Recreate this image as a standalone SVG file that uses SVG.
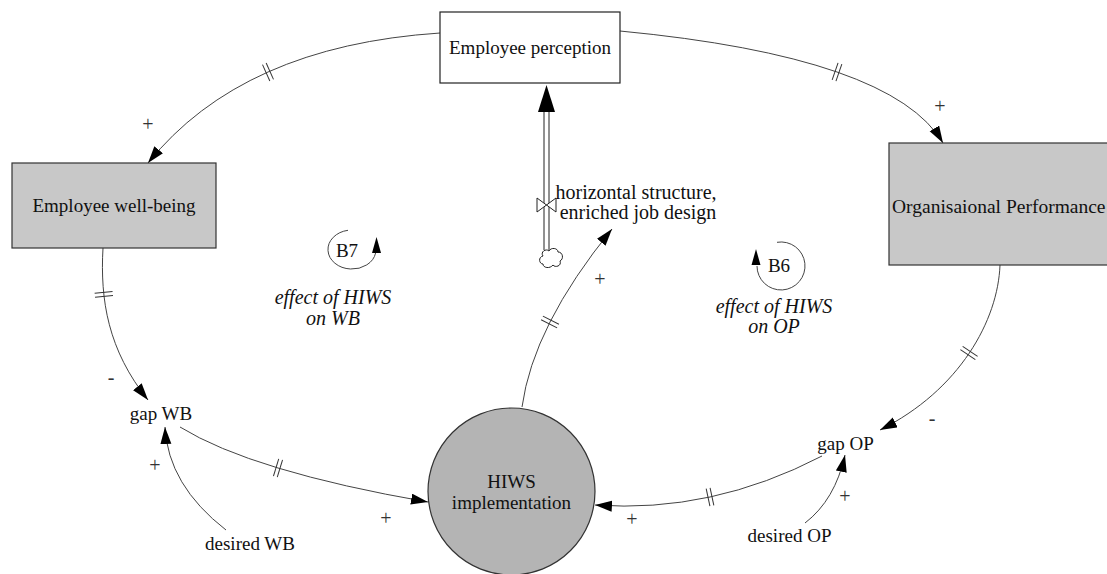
<svg xmlns="http://www.w3.org/2000/svg" width="1107" height="574" viewBox="0 0 1107 574" font-family="'Liberation Serif', 'Times New Roman', serif">
  <defs>
    <marker id="arrow" markerUnits="userSpaceOnUse" markerWidth="18" markerHeight="12" refX="17" refY="5.5" orient="auto">
      <path d="M0,0 L17,5.5 L0,11 z" fill="#000"/>
    </marker>
    <style>
      text { font-family: "Liberation Serif", "Times New Roman", serif; fill: #111; }
      .lbl { font-size: 19px; text-anchor: middle; }
      .flowlbl { font-size: 20px; text-anchor: middle; }
      .loop { font-size: 20px; font-style: italic; text-anchor: middle; }
      .pol { font-size: 20px; text-anchor: middle; fill: #333; }
      .link { fill: none; stroke: #444; stroke-width: 1; marker-end: url(#arrow); }
      .delay line { stroke: #333; stroke-width: 1; }
      .stock { fill: #c8c8c8; stroke: #333; stroke-width: 1.2; }
    </style>
  </defs>
  <rect width="1107" height="574" fill="#fff"/>

  <!-- causal links -->
  <g id="connectors">
    <path class="link" d="M440,33 Q242,46 148,163"/>
    <path class="link" d="M620,31 Q892.5,57 943,143"/>
    <path class="link" d="M103,248 C100,300 108,350 148,400"/>
    <path class="link" d="M180,427 Q252,471.5 428,502"/>
    <path class="link" d="M226,530 Q168,485 165,427"/>
    <path class="link" d="M1000,265 C998,320 960,390 880,430"/>
    <path class="link" d="M822,456 Q711.5,513.5 595,505"/>
    <path class="link" d="M805,523 Q835,500 845,455"/>
    <path class="link" d="M522,407 Q533,326 612,229"/>

    <!-- delay marks -->
    <g class="delay">
      <g transform="translate(268,72) rotate(156)"><line x1="-2" y1="-9" x2="-2" y2="9"/><line x1="2" y1="-9" x2="2" y2="9"/></g>
      <g transform="translate(837,72) rotate(19)"><line x1="-2" y1="-9" x2="-2" y2="9"/><line x1="2" y1="-9" x2="2" y2="9"/></g>
      <g transform="translate(103.8,294.4) rotate(84)"><line x1="-2" y1="-9" x2="-2" y2="9"/><line x1="2" y1="-9" x2="2" y2="9"/></g>
      <g transform="translate(278,468) rotate(17)"><line x1="-2" y1="-9" x2="-2" y2="9"/><line x1="2" y1="-9" x2="2" y2="9"/></g>
      <g transform="translate(969,353) rotate(124)"><line x1="-2" y1="-9" x2="-2" y2="9"/><line x1="2" y1="-9" x2="2" y2="9"/></g>
      <g transform="translate(710,497) rotate(168)"><line x1="-2" y1="-9" x2="-2" y2="9"/><line x1="2" y1="-9" x2="2" y2="9"/></g>
      <g transform="translate(550,322) rotate(-63)"><line x1="-2" y1="-9" x2="-2" y2="9"/><line x1="2" y1="-9" x2="2" y2="9"/></g>
    </g>

    <!-- polarities -->
    <text class="pol" x="148" y="131">+</text>
    <text class="pol" x="940" y="113">+</text>
    <text class="pol" x="111" y="384">-</text>
    <text class="pol" x="386" y="525">+</text>
    <text class="pol" x="155" y="472">+</text>
    <text class="pol" x="932" y="425">-</text>
    <text class="pol" x="632" y="526">+</text>
    <text class="pol" x="845" y="503">+</text>
    <text class="pol" x="600" y="286">+</text>
  </g>

  <!-- inflow into Employee perception -->
  <g id="flow">
    <line x1="544" y1="250" x2="544" y2="111" stroke="#222" stroke-width="1"/>
    <line x1="549" y1="250" x2="549" y2="111" stroke="#222" stroke-width="1"/>
    <polygon points="546.5,85 538,112 555,112" fill="#000"/>
    <polygon points="537,198 556,212 556,198 537,212" fill="#fff" stroke="#222" stroke-width="1"/>
    <path d="M543,256 C540,252 546,248 549,251 C551,247 558,248 558,252 C563,252 564,259 560,261 C562,266 555,268 553,265 C550,269 543,268 543,264 C539,264 538,257 543,256 Z" fill="#fff" stroke="#222" stroke-width="1"/>
    <text class="flowlbl" x="636" y="199">horizontal structure,</text>
    <text class="flowlbl" x="638" y="219">enriched job design</text>
  </g>

  <g id="employee-perception">
    <rect x="440" y="12" width="180" height="71" fill="#fff" stroke="#222" stroke-width="1.2"/>
    <text class="lbl" x="530" y="54">Employee perception</text>
  </g>

  <g id="employee-well-being">
    <rect class="stock" x="12" y="163" width="204" height="85"/>
    <text class="lbl" x="114" y="212">Employee well-being</text>
  </g>

  <g id="organisational-performance">
    <rect class="stock" x="889" y="143" width="240" height="122"/>
    <text x="892" y="213" style="font-size:19.5px">Organisaional Performance</text>
  </g>

  <g id="hiws-implementation">
    <circle cx="511.5" cy="491.5" r="83.5" fill="#b4b4b4" stroke="#333" stroke-width="1.2"/>
    <text class="lbl" x="511.5" y="488">HIWS</text>
    <text class="lbl" x="511.5" y="509">implementation</text>
  </g>

  <g id="gap-wb"><text class="lbl" x="161" y="420">gap WB</text></g>
  <g id="desired-wb"><text class="lbl" x="250" y="550">desired WB</text></g>
  <g id="gap-op"><text class="lbl" x="845.5" y="450">gap OP</text></g>
  <g id="desired-op"><text class="lbl" x="789.5" y="542">desired OP</text></g>

  <!-- loop B7 -->
  <g id="loop-b7">
    <path d="M348,230.3 A24 19.5 0 1 0 375.6 253" fill="none" stroke="#444" stroke-width="1"/>
    <polygon points="376.5,237 372,253 381,253" fill="#000"/>
    <text class="lbl" x="347" y="257">B7</text>
    <text class="loop" x="333" y="304">effect of HIWS</text>
    <text class="loop" x="333" y="325">on WB</text>
  </g>

  <!-- loop B6 -->
  <g id="loop-b6">
    <path d="M777,242.3 A24 24 0 1 1 757 266" fill="none" stroke="#444" stroke-width="1"/>
    <polygon points="756,249 751.5,265 760.5,265" fill="#000"/>
    <text class="lbl" x="779" y="272">B6</text>
    <text class="loop" x="774" y="313">effect of HIWS</text>
    <text class="loop" x="774" y="333">on OP</text>
  </g>
</svg>
